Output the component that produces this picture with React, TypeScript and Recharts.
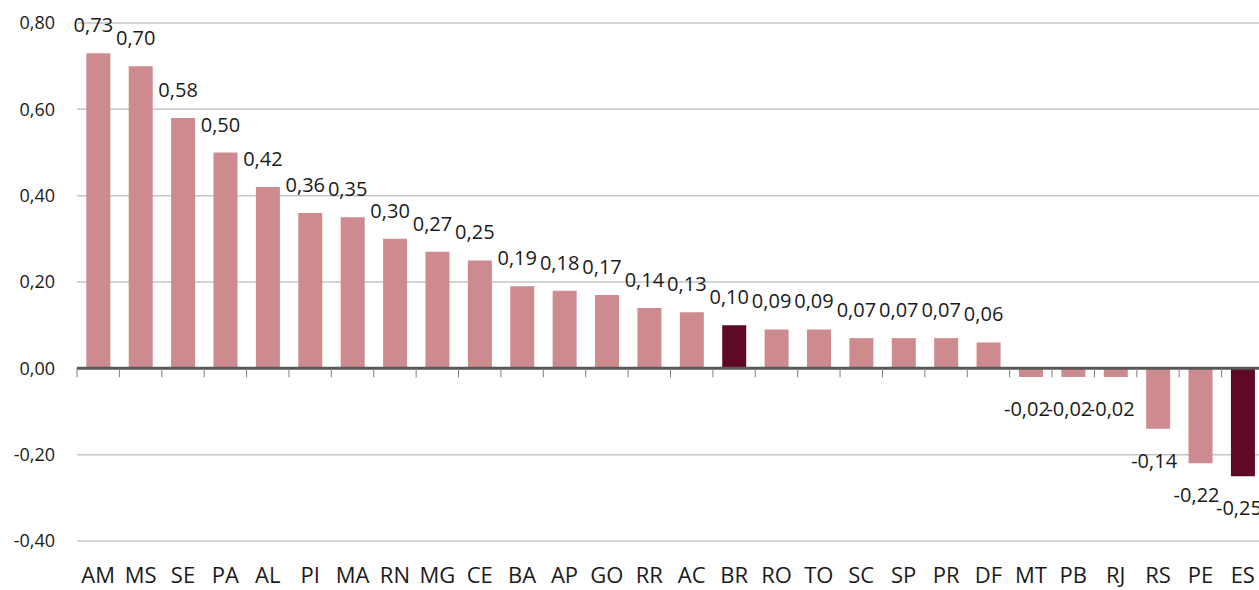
import React from 'react';
import { BarChart, Bar, XAxis, YAxis, CartesianGrid, ReferenceLine, LabelList, Cell } from 'recharts';

const states = ['AM', 'MS', 'SE', 'PA', 'AL', 'PI', 'MA', 'RN', 'MG', 'CE', 'BA', 'AP', 'GO', 'RR', 'AC', 'BR', 'RO', 'TO', 'SC', 'SP', 'PR', 'DF', 'MT', 'PB', 'RJ', 'RS', 'PE', 'ES'];
const values = [0.73, 0.70, 0.58, 0.50, 0.42, 0.36, 0.35, 0.30, 0.27, 0.25, 0.19, 0.18, 0.17, 0.14, 0.13, 0.10, 0.09, 0.09, 0.07, 0.07, 0.07, 0.06, -0.02, -0.02, -0.02, -0.14, -0.22, -0.25];
const highlighted = ['BR', 'ES'];
const yTicks = [-0.4, -0.2, 0, 0.2, 0.4, 0.6, 0.8];

const data = states.map((uf, i) => ({ uf, value: values[i] }));

const W = 1264;
const H = 590;
const LEFT = 77;
const TOP = 23;
const BOTTOM = 49;
const PLOT_W = W - LEFT;
const PLOT_H = H - TOP - BOTTOM;
const Y_MIN = -0.4;
const Y_MAX = 0.8;
const band = PLOT_W / states.length;
const zeroY = TOP + (Y_MAX / (Y_MAX - Y_MIN)) * PLOT_H;

const FONT = '"Open Sans", sans-serif';
const fmt = (v: number) => v.toFixed(2).replace('.', ',');

// category labels at the bottom + boundary tick marks hanging off the zero line
const CatTick = (props: any) => {
  const { x, payload } = props;
  const left = x - band / 2;
  return (
    <g>
      <line x1={left} x2={left} y1={zeroY} y2={zeroY + 9} stroke="#7f7f7f" strokeWidth={1} />
      <text x={x} y={583} textAnchor="middle" fontFamily={FONT} fontSize={22} fill="#1a1a1a">
        {payload.value}
      </text>
    </g>
  );
};

const ValueLabel = (props: any) => {
  const { x, y, width, height, value } = props;
  const cx = x + width / 2;
  if (value >= 0) {
    const top = Math.min(y, y + height);
    return (
      <text x={cx - 5} y={top - 21} textAnchor="middle" fontFamily={FONT} fontSize={20} fill="#1a1a1a">
        {fmt(value)}
      </text>
    );
  }
  const bottom = Math.max(y, y + height);
  return (
    <text x={cx - 4} y={bottom + 39} textAnchor="middle" fontFamily={FONT} fontSize={20} fill="#1a1a1a">
      {fmt(value)}
    </text>
  );
};

export default function App() {
  return (
    <div style={{ position: 'absolute', left: 0, top: 0, width: 1259, height: H, overflow: 'hidden', background: '#fff' }}>
      <BarChart width={W} height={H} data={data} margin={{ top: TOP, right: 0, bottom: 0, left: 0 }} barCategoryGap="22%">
        <CartesianGrid vertical={false} stroke="#c6c6c6" strokeWidth={1.5} />
        <YAxis
          domain={[Y_MIN, Y_MAX]}
          ticks={yTicks}
          width={LEFT}
          axisLine={false}
          tickLine={false}
          tickSize={0}
          tickMargin={22}
          tickFormatter={fmt}
          tick={{ fontFamily: FONT, fontSize: 18, fill: '#1a1a1a' }}
        />
        <XAxis dataKey="uf" height={BOTTOM} axisLine={false} tickLine={false} interval={0} tick={<CatTick />} />
        <Bar dataKey="value" isAnimationActive={false}>
          {data.map((d) => (
            <Cell key={d.uf} fill={highlighted.includes(d.uf) ? '#5e0a26' : '#ce8b8f'} />
          ))}
          <LabelList dataKey="value" content={<ValueLabel />} />
        </Bar>
        <ReferenceLine y={0} stroke="#595959" strokeWidth={3} />
      </BarChart>
    </div>
  );
}
